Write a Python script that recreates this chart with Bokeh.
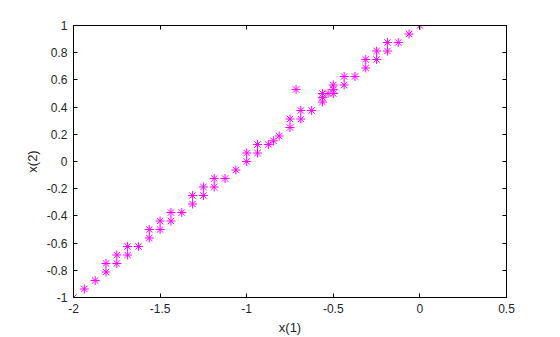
from bokeh.plotting import figure
from bokeh.models import LinearAxis, FixedTicker, CustomJSTickFormatter, Range1d
from bokeh.embed import file_html
from bokeh.resources import INLINE

x1 = [-2, -1.9375, -1.875, -1.8125, -1.8125, -1.75, -1.75, -1.6875, -1.6875, -1.625,
      -1.5625, -1.5625, -1.5, -1.5, -1.4375, -1.4375, -1.375, -1.3125, -1.3125,
      -1.25, -1.25, -1.1875, -1.1875, -1.125, -1.0625, -1, -1, -0.9375, -0.9375,
      -0.875, -0.845, -0.8125, -0.75, -0.75, -0.715, -0.6875, -0.6875, -0.625,
      -0.5625, -0.5625, -0.5625, -0.53, -0.5, -0.5, -0.5, -0.4375, -0.4375, -0.375,
      -0.3125, -0.3125, -0.25, -0.25, -0.1875, -0.1875, -0.125, -0.0625, 0]
x2 = [-1, -0.9375, -0.875, -0.75, -0.8125, -0.6875, -0.75, -0.625, -0.6875, -0.625,
      -0.5, -0.5625, -0.4375, -0.5, -0.375, -0.4375, -0.375, -0.25, -0.3125,
      -0.1875, -0.25, -0.125, -0.1875, -0.125, -0.0625, 0.0625, 0, 0.125, 0.0625,
      0.125, 0.152, 0.1875, 0.3125, 0.25, 0.53, 0.375, 0.3125, 0.375,
      0.5, 0.47, 0.4375, 0.5, 0.5625, 0.53, 0.5, 0.625, 0.5625, 0.625,
      0.75, 0.6875, 0.8125, 0.75, 0.875, 0.8125, 0.875, 0.9375, 1]

x_ticks = [-2, -1.5, -1, -0.5, 0, 0.5]
y_ticks = [-1, -0.8, -0.6, -0.4, -0.2, 0, 0.2, 0.4, 0.6, 0.8, 1]
x_label = "x(1)"
y_label = "x(2)"

FONT = "Liberation Sans"
TXT = "#262626"

p = figure(width=560, height=337, output_backend="svg", toolbar_location=None,
           x_range=Range1d(-2, 0.5), y_range=Range1d(-1, 1),
           x_axis_location=None, y_axis_location=None,
           min_border_left=73, min_border_right=54, min_border_top=25, min_border_bottom=39)
p.grid.visible = False
p.background_fill_color = "white"
p.border_fill_color = "white"
p.outline_line_color = "black"

fmt = CustomJSTickFormatter(code="return String(Math.round(tick*100)/100);")
blank = CustomJSTickFormatter(code="return '';")

def make_axis(ticks, label, show_labels):
    ax = LinearAxis(ticker=FixedTicker(ticks=ticks), formatter=fmt if show_labels else blank)
    ax.major_tick_in = 4
    ax.major_tick_out = 0
    ax.minor_tick_line_color = None
    ax.axis_line_color = "black"
    ax.major_tick_line_color = "black"
    ax.major_label_text_font = FONT
    ax.major_label_text_font_size = "12px"
    ax.major_label_text_color = TXT
    ax.major_label_standoff = 6 if show_labels else 0
    if label:
        ax.axis_label = label
        ax.axis_label_text_font = FONT
        ax.axis_label_text_font_size = "13px"
        ax.axis_label_text_font_style = "normal"
        ax.axis_label_text_color = TXT
        ax.axis_label_standoff = 4
    return ax

p.add_layout(make_axis(x_ticks, x_label, True), "below")
p.add_layout(make_axis(y_ticks, y_label, True), "left")
p.add_layout(make_axis(x_ticks, None, False), "above")
p.add_layout(make_axis(y_ticks, None, False), "right")

p.scatter(x1, x2, marker="asterisk", size=9, line_color="#FF00FF", line_width=1)

open("out.html", "w").write(file_html(p, INLINE))
